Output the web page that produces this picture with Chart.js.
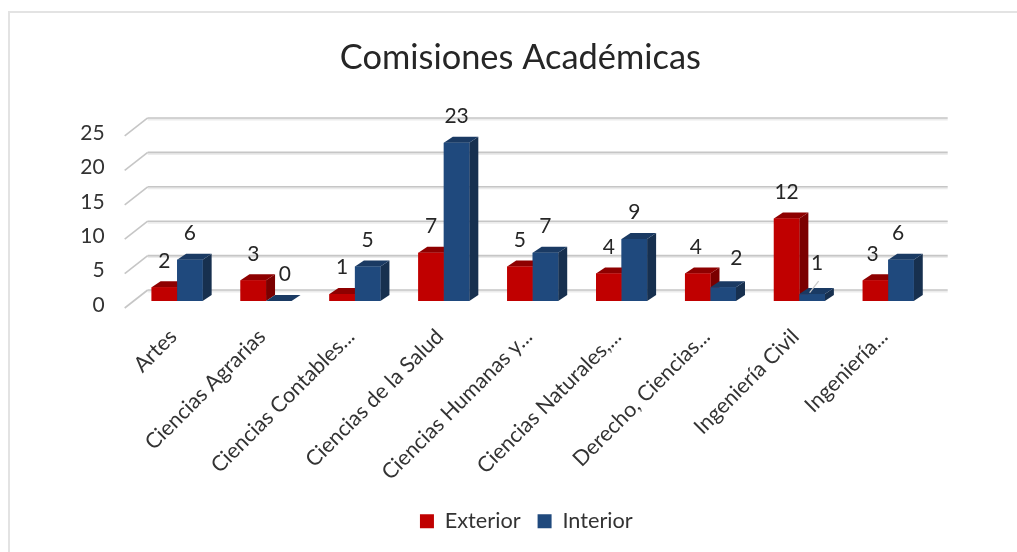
<!DOCTYPE html>
<html><head><meta charset="utf-8">
<style>html,body{margin:0;padding:0;background:#fff;overflow:hidden}canvas{display:block}</style>
<script src="https://cdn.jsdelivr.net/npm/chart.js@4"></script>
</head><body><canvas id="c" width="1017" height="552"></canvas>
<script>
const categories = ["Artes","Ciencias Agrarias","Ciencias Contables...","Ciencias de la Salud","Ciencias Humanas y...","Ciencias Naturales,...","Derecho, Ciencias...","Ingeniería Civil","Ingeniería..."];
const exterior = [2,3,1,7,5,4,4,12,3];
const interior = [6,0,5,23,7,9,2,1,6];
const titleText = "Comisiones Académicas";
const FONT = "Lato, 'Open Sans', sans-serif";
const DEPTH = {dx: 9, dy: 6};
const labelNudges = {"1:1":[6,0],"1:6":[13,-3],"1:7":[5,-4],"0:8":[-3,0],"1:8":[-3,0],"0:6":[-2,0]};
const faces = [{side:"#7b0000",top:"#8e0000"},{side:"#17304f",top:"#1a3a63"}];

function poly(ctx,pts,fill){ctx.fillStyle=fill;ctx.beginPath();pts.forEach((p,i)=>i?ctx.lineTo(p[0],p[1]):ctx.moveTo(p[0],p[1]));ctx.closePath();ctx.fill();}

const shiftBlocks = {id:"shiftBlocks",afterLayout(chart){
  chart.titleBlock.left+=54;chart.titleBlock.right+=54;
  chart.legend.left+=60;chart.legend.right+=60;
}};
const frame = {id:"frame",beforeDraw(chart){
  const c=chart.ctx;c.save();c.fillStyle="#e3e3e3";
  c.fillRect(8,11,1009,2);c.fillRect(8,11,2,541);c.restore();
}};
const walls = {id:"walls",beforeDatasetsDraw(chart){
  const c=chart.ctx,y=chart.scales.y,a=chart.chartArea;c.save();
  y.ticks.forEach(t=>{
    const p=y.getPixelForValue(t.value);
    c.strokeStyle="#ececec";c.lineWidth=2;
    c.beginPath();c.moveTo(a.left+15,p-9.5);c.lineTo(a.right+15,p-9.5);c.stroke();
    c.strokeStyle="#c6c6c6";c.lineWidth=1.6;
    c.beginPath();c.moveTo(a.left+15,p-11);c.lineTo(a.right+15,p-11);c.stroke();
    c.beginPath();c.moveTo(a.left-8,p+7);c.lineTo(a.left+15,p-11);c.stroke();
  });
  c.restore();
}};
const bars3d = {id:"bars3d",afterDatasetsDraw(chart){
  const c=chart.ctx,{dx,dy}=DEPTH;c.save();
  categories.forEach((_,i)=>{
    [0,1].forEach(s=>{
      const b=chart.getDatasetMeta(s).data[i],w=b.width/2,L=b.x-w,R=b.x+w,T=b.y,B=b.base;
      poly(c,[[R,T],[R+dx,T-dy],[R+dx,B-dy],[R,B]],faces[s].side);
      poly(c,[[L,T],[L+dx,T-dy],[R+dx,T-dy],[R,T]],faces[s].top);
      b.draw(c);
    });
  });
  c.fillStyle="#262626";c.font="21px "+FONT;c.textAlign="center";c.textBaseline="middle";
  [0,1].forEach(s=>{
    chart.getDatasetMeta(s).data.forEach((b,i)=>{
      const n=labelNudges[s+":"+i]||[0,0];
      c.fillText(String(chart.data.datasets[s].data[i]),b.x+n[0],b.y-26.5+n[1]);
    });
  });
  const lb=chart.getDatasetMeta(1).data[7];
  c.strokeStyle="#c9c9c9";c.lineWidth=1.2;c.beginPath();c.moveTo(lb.x-2.5,lb.y-1.5);c.lineTo(lb.x+6.5,lb.y-13);c.stroke();
  c.restore();
}};

new Chart(document.getElementById("c"),{
  type:"bar",
  data:{labels:categories,datasets:[
    {label:"Exterior",data:exterior,backgroundColor:"#c00000"},
    {label:"Interior",data:interior,backgroundColor:"#1f497d"}
  ]},
  plugins:[frame,shiftBlocks,walls,bars3d],
  options:{
    responsive:false,animation:false,devicePixelRatio:1,
    barPercentage:1,categoryPercentage:0.574,
    layout:{padding:{left:0,right:84.3,top:0,bottom:10}},
    plugins:{
      tooltip:{enabled:false},
      title:{display:true,text:titleText,color:"#262626",font:{family:FONT,size:34.4,weight:"normal"},padding:{top:37.3,bottom:50.4}},
      legend:{position:"bottom",labels:{boxWidth:14,boxHeight:14,padding:17,color:"#333333",font:{family:FONT,size:21.7}}}
    },
    scales:{
      x:{
        grid:{display:false},border:{display:false},
        ticks:{autoSkip:false,minRotation:45,maxRotation:45,padding:15,labelOffset:-4,color:"#333333",font:{family:FONT,size:21.4}},
        afterFit(s){s.height=192.3;}
      },
      y:{
        min:0,max:25,
        grid:{display:false},border:{display:false},
        ticks:{stepSize:5,padding:20,labelOffset:4,color:"#333333",font:{family:FONT,size:21}},
        afterFit(s){s.width=132.7;}
      }
    }
  }
});
</script></body></html>
